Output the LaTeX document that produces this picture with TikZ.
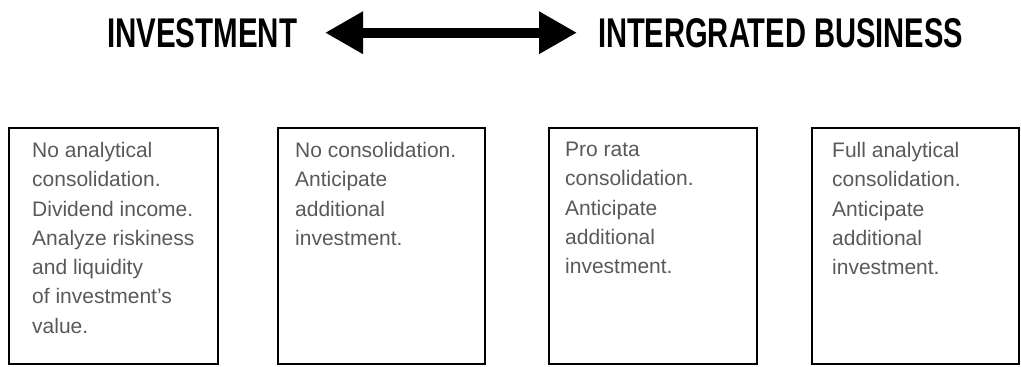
\documentclass[tikz,border=0pt]{standalone}
\usepackage{graphicx}
\usepackage{fontspec}
\setmainfont{Liberation Sans}
\usetikzlibrary{arrows.meta}
\begin{document}
\begin{tikzpicture}[x=1pt,y=-1pt,
  hdr/.style={inner sep=0pt, outer sep=0pt, anchor=north west},
  frame/.style={draw=black, line width=2pt, inner sep=0pt, outer sep=0pt, anchor=north west, minimum height=236pt},
  txt/.style={inner sep=0pt, anchor=north west, align=left, text=black!65, font=\fontsize{21}{29.3}\selectfont},
  bigarrow/.style={line width=10pt, {Triangle[length=38pt,width=40pt]}-{Triangle[length=38pt,width=40pt]}}
]
\useasboundingbox (0,0) rectangle (1021,367);
\node[hdr] (inv) at (107,18) {\resizebox{190pt}{29pt}{\bfseries INVESTMENT}};
\node[hdr] (biz) at (598,18) {\resizebox{365pt}{29pt}{\bfseries INTERGRATED BUSINESS}};
\draw[bigarrow, shorten <=28pt, shorten >=21pt] (inv.east) -- (biz.west);

\node[frame, minimum width=209pt] (b1) at (9,128) {};
\node[frame, minimum width=207pt] (b2) at (278,128) {};
\node[frame, minimum width=208pt] (b3) at (549,128) {};
\node[frame, minimum width=207pt] (b4) at (812,128) {};

\node[txt] (t1) at ([shift={(23,14)}]b1.north west) {No analytical\\consolidation.\\Dividend income.\\Analyze riskiness\\and liquidity\\of investment's\\value.};
\node[txt] (t2) at ([shift={(17,14)}]b2.north west) {No consolidation.\\Anticipate\\additional\\investment.};
\node[txt] (t3) at ([shift={(16,14)}]b3.north west) {Pro rata\\consolidation.\\Anticipate\\additional\\investment.};
\node[txt] (t4) at ([shift={(20,14)}]b4.north west) {Full analytical\\consolidation.\\Anticipate\\additional\\investment.};
\end{tikzpicture}
\end{document}
